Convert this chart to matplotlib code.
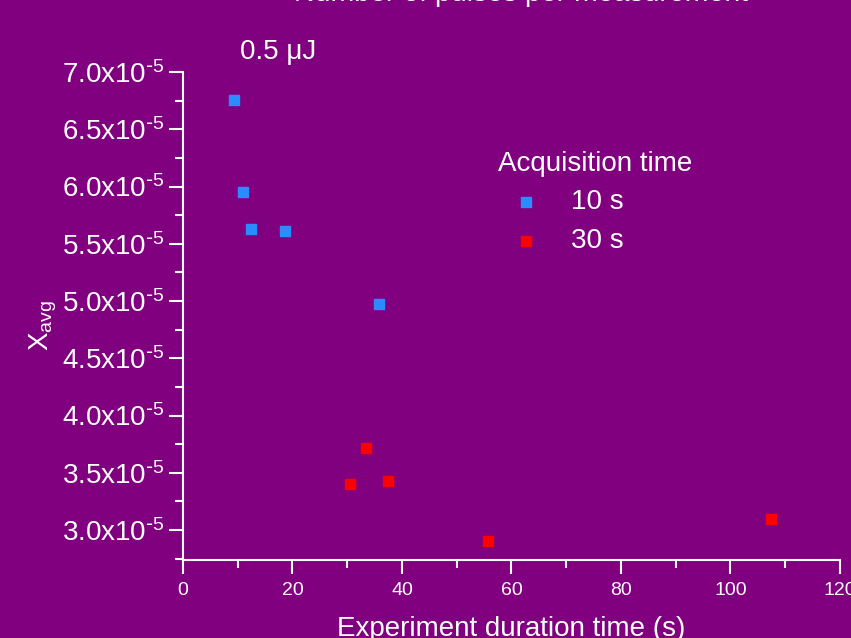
import matplotlib.pyplot as plt
from matplotlib.ticker import MultipleLocator, FuncFormatter

# Data (x in s, y as X_avg)
time_10s = [9.3, 11.0, 12.4, 18.6, 35.8]
xavg_10s = [6.76e-5, 5.95e-5, 5.63e-5, 5.61e-5, 4.97e-5]

time_30s = [30.5, 33.4, 37.4, 55.7, 107.4]
xavg_30s = [3.40e-5, 3.72e-5, 3.43e-5, 2.90e-5, 3.10e-5]

bg = '#800080'
fg = 'white'

plt.rcParams['font.family'] = ['Liberation Sans', 'DejaVu Sans']
plt.rcParams['mathtext.default'] = 'regular'

fig = plt.figure(figsize=(8.51, 6.38), dpi=100, facecolor=bg)
ax = fig.add_axes([0.215, 0.1223, 0.772, 0.7647], facecolor=bg)

ax.scatter(time_10s, xavg_10s, marker='s', s=55, color='#2a8cff', label='10 s', zorder=3)
ax.scatter(time_30s, xavg_30s, marker='s', s=55, color='#ff0000', label='30 s', zorder=3)

ax.set_xlim(0, 120)
ax.set_ylim(2.738e-5, 7.0e-5)

for side in ['top', 'right']:
    ax.spines[side].set_visible(False)
for side in ['left', 'bottom']:
    ax.spines[side].set_color(fg)
    ax.spines[side].set_linewidth(1.5)

ax.xaxis.set_major_locator(MultipleLocator(20))
ax.xaxis.set_minor_locator(MultipleLocator(10))
ax.yaxis.set_major_locator(MultipleLocator(0.5e-5))
ax.yaxis.set_minor_locator(MultipleLocator(0.25e-5))

def yfmt(v, pos):
    # hyphen instead of the wide minus sign, like the reference
    return r'$\mathregular{%.1fx10^{\text{-}5}}$' % (v / 1e-5)

ax.yaxis.set_major_formatter(FuncFormatter(yfmt))

ax.tick_params(axis='both', which='major', colors=fg, length=10, width=1.5)
ax.tick_params(axis='both', which='minor', colors=fg, length=6, width=1.5)
ax.tick_params(axis='y', labelsize=20, pad=3)
ax.tick_params(axis='x', labelsize=14, pad=6)

ax.set_xlabel('Experiment duration time (s)', color=fg, fontsize=20, labelpad=12)
ax.set_ylabel(r'$X_{avg}$', color=fg, fontsize=20)
ax.yaxis.set_label_coords(-0.188, 0.48)

fig.text(0.612, 0.998, 'Number of pulses per measurement', color=fg,
         fontsize=20.5, ha='center', va='baseline')
ax.text(0.087, 1.015, '0.5 μJ', color=fg, fontsize=20, transform=ax.transAxes,
        ha='left', va='bottom')

leg = ax.legend(title='Acquisition time', loc='upper left',
                bbox_to_anchor=(0.459, 0.867), frameon=False, fontsize=20,
                title_fontsize=20, alignment='left', handlelength=2,
                handletextpad=0.6, labelspacing=0.45, borderpad=0,
                scatterpoints=1)
for t in leg.get_texts():
    t.set_color(fg)
leg.get_title().set_color(fg)

fig.savefig('out.png', dpi=100, facecolor=bg)
